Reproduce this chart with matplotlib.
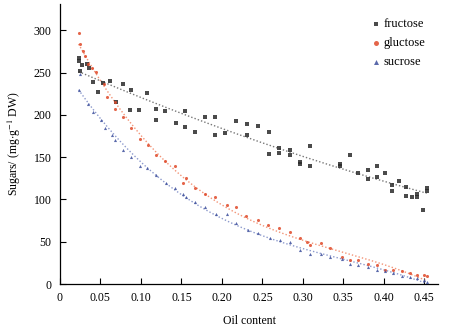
"""
Sugar content vs oil content scatter with dotted trend lines.
"""
import numpy as np
import matplotlib
matplotlib.use('Agg')
import matplotlib.pyplot as plt

plt.rcParams['font.family'] = ['Liberation Serif', 'DejaVu Serif']
plt.rcParams['mathtext.fontset'] = 'stix'

# fructose
fru_x = [0.023, 0.023, 0.025, 0.027, 0.034, 0.036, 0.041, 0.047, 0.053, 0.062,
         0.069, 0.078, 0.087, 0.088, 0.098, 0.108, 0.119, 0.119, 0.130, 0.143,
         0.154, 0.154, 0.167, 0.179, 0.191, 0.191, 0.204, 0.218, 0.231, 0.231,
         0.244, 0.258, 0.258, 0.270, 0.270, 0.284, 0.284, 0.296, 0.297, 0.309,
         0.309, 0.346, 0.346, 0.358, 0.368, 0.381, 0.381, 0.391, 0.391, 0.401,
         0.410, 0.410, 0.419, 0.427, 0.427, 0.435, 0.441, 0.441, 0.448, 0.453,
         0.453]
fru_y = [267, 264, 252, 259, 260, 255, 239, 227, 238, 240,
         215, 236, 206, 229, 206, 226, 194, 207, 204, 190,
         205, 186, 180, 198, 198, 176, 178, 193, 189, 176,
         187, 180, 154, 161, 155, 158, 152, 144, 142, 163,
         139, 142, 140, 153, 131, 135, 124, 139, 127, 131,
         117, 110, 122, 115, 104, 103, 107, 103, 88, 113,
         110]

# gluctose
glu_x = [0.023, 0.025, 0.029, 0.031, 0.035, 0.039, 0.045, 0.054, 0.058, 0.068,
         0.068, 0.078, 0.088, 0.099, 0.109, 0.119, 0.130, 0.142, 0.152, 0.156,
         0.167, 0.179, 0.191, 0.206, 0.218, 0.230, 0.245, 0.257, 0.270, 0.284,
         0.296, 0.305, 0.309, 0.322, 0.334, 0.348, 0.358, 0.368, 0.381, 0.391,
         0.401, 0.411, 0.422, 0.432, 0.441, 0.449, 0.453]
glu_y = [297, 284, 276, 270, 260, 255, 251, 237, 221, 215,
         207, 198, 184, 172, 164, 153, 146, 140, 119, 125,
         113, 107, 103, 93, 91, 80, 76, 70, 66, 62,
         54, 50, 46, 48, 43, 32, 29, 28, 24, 23,
         17, 17, 15, 13, 11, 11, 9]

# sucrose
suc_x = [0.023, 0.025, 0.035, 0.041, 0.051, 0.056, 0.064, 0.068, 0.078, 0.088,
         0.099, 0.108, 0.119, 0.131, 0.142, 0.152, 0.156, 0.167, 0.179, 0.193,
         0.206, 0.218, 0.232, 0.245, 0.259, 0.272, 0.284, 0.296, 0.309, 0.322,
         0.334, 0.348, 0.358, 0.368, 0.381, 0.391, 0.401, 0.411, 0.422, 0.432,
         0.441, 0.449, 0.453]
suc_y = [229, 248, 213, 203, 194, 184, 176, 170, 158, 150,
         139, 137, 129, 119, 113, 107, 103, 97, 91, 83,
         83, 72, 64, 60, 54, 52, 50, 40, 36, 36,
         32, 30, 24, 22, 20, 17, 15, 13, 9, 8,
         7, 5, 3]

x_ticks = [0, 0.05, 0.10, 0.15, 0.20, 0.25, 0.30, 0.35, 0.40, 0.45]
x_tick_labels = ['0', '0.05', '0.10', '0.15', '0.20', '0.25', '0.30', '0.35', '0.40', '0.45']
y_ticks = [0, 50, 100, 150, 200, 250, 300]

series = [
    ('fructose', fru_x, fru_y, 's', '#2b2b2b', '#555555', 2),
    ('gluctose', glu_x, glu_y, 'o', '#e04a2a', '#f07a55', 3),
    ('sucrose', suc_x, suc_y, '^', '#3d4f9c', '#7080c0', 3),
]

fig = plt.figure(figsize=(4.54, 3.33), dpi=100)
ax = fig.add_axes([0.132, 0.147, 0.833, 0.841])

for name, xs, ys, marker, color, line_color, deg in series:
    xs = np.array(xs)
    ys = np.array(ys)
    ax.scatter(xs, ys, marker=marker, s=5, color=color, linewidths=0,
               alpha=0.85, label=name, zorder=3)
    # dotted trend line fitted to the points
    coef = np.polyfit(xs, ys, deg)
    xt = np.linspace(xs.min(), xs.max(), 200)
    ax.plot(xt, np.polyval(coef, xt), linestyle=(0, (1, 1.5)), linewidth=1.0,
            color=line_color, alpha=0.8, zorder=2)

ax.set_xlim(0, 0.467)
ax.set_ylim(0, 331)
ax.set_xticks(x_ticks)
ax.set_xticklabels(x_tick_labels)
ax.set_yticks(y_ticks)
ax.tick_params(direction='in', length=4, width=0.8, labelsize=8.5, pad=6)
ax.spines['top'].set_visible(False)
ax.spines['right'].set_visible(False)
ax.spines['left'].set_linewidth(0.9)
ax.spines['bottom'].set_linewidth(0.9)

ax.set_xlabel('Oil content', fontsize=8.5, labelpad=8)
ax.set_ylabel('Sugars/ (mg$\\cdot$g$^{-1}$ DW)', fontsize=8.5, labelpad=8)

leg = ax.legend(loc='upper right', bbox_to_anchor=(0.985, 0.975), frameon=False,
                fontsize=9, handletextpad=0.1, borderaxespad=0.2,
                labelspacing=0.55, markerscale=1.6, handlelength=1.0)

fig.savefig('out.png', dpi=100)
